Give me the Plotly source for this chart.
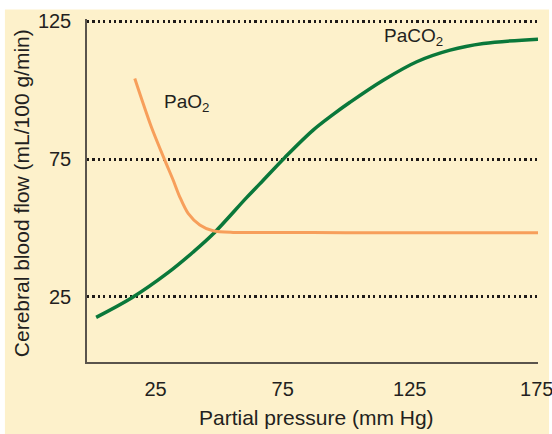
import plotly.graph_objects as go

# Data
paco2_x = [1.6, 15.5, 29.9, 39.7, 47.6, 60.8, 66, 75.9, 87, 94.9, 101.5, 114.6, 127.8, 140.9, 154, 175.5]
paco2_y = [17.6, 24.6, 33.8, 41.2, 47.8, 61.0, 66.0, 75.6, 85.5, 91.2, 95.6, 103.6, 110.3, 114.5, 116.9, 118.5]

pao2_x = [16.8, 23.3, 28.6, 31.9, 34.5, 37.8, 42.4, 47.6, 55.5, 66, 100, 175.5]
pao2_y = [104.2, 86.7, 74.6, 67.4, 61.3, 55.3, 51.1, 49.0, 48.4, 48.4, 48.3, 48.3]

x_ticks = [25, 75, 125, 175]
y_ticks = [25, 75, 125]

FONT = "Liberation Sans, Arial, Helvetica, sans-serif"
TEXT = "#231f20"
CREAM = "#fdf1cb"
GREEN = "#0a783a"
ORANGE = "#f79f5b"
AXIS = "#5a544c"

fig = go.Figure()
fig.add_trace(go.Scatter(x=paco2_x, y=paco2_y, mode="lines",
                         line=dict(color=GREEN, width=3.5, shape="spline", smoothing=1.0),
                         showlegend=False, hoverinfo="skip"))
fig.add_trace(go.Scatter(x=pao2_x, y=pao2_y, mode="lines",
                         line=dict(color=ORANGE, width=3, shape="spline", smoothing=0.8),
                         showlegend=False, hoverinfo="skip"))

fig.add_shape(type="rect", xref="paper", yref="paper",
              x0=-0.182, x1=1.0245, y0=-0.3, y1=1.028,
              fillcolor=CREAM, line=dict(width=0), layer="below")

fig.add_annotation(x=27.4, y=95.3, xref="x", yref="y", text="PaO<sub>2</sub>",
                   showarrow=False, xanchor="left", yanchor="middle",
                   font=dict(family=FONT, size=19, color=TEXT))
fig.add_annotation(x=114, y=119.3, xref="x", yref="y", text="PaCO<sub>2</sub>",
                   showarrow=False, xanchor="left", yanchor="middle",
                   font=dict(family=FONT, size=19, color=TEXT))

# Axis titles
fig.add_annotation(x=0.509, y=-0.163, xref="paper", yref="paper",
                   text="Partial pressure (mm Hg)", showarrow=False,
                   xanchor="center", yanchor="middle",
                   font=dict(family=FONT, size=21, color=TEXT))
fig.add_annotation(x=-0.145, y=0.491, xref="paper", yref="paper",
                   text="Cerebral blood flow (mL/100 g/min)", showarrow=False,
                   textangle=-90, xanchor="center", yanchor="middle",
                   font=dict(family=FONT, size=21, color=TEXT))

fig.update_layout(
    width=552, height=434,
    margin=dict(l=87, r=14, t=18.7, b=72),
    paper_bgcolor="white",
    plot_bgcolor="rgba(0,0,0,0)",
    font=dict(family=FONT, color=TEXT),
    xaxis=dict(range=[-2, 175.5], tickvals=x_ticks, ticktext=[str(v) for v in x_ticks],
               showgrid=False, zeroline=False, showline=True, linecolor=AXIS, linewidth=1.5,
               ticks="", ticklabelstandoff=8, ticklabeloverflow="allow", automargin=False,
               tickfont=dict(family=FONT, size=20, color=TEXT)),
    yaxis=dict(range=[1.4, 125.8], tickvals=y_ticks, ticktext=[str(v) for v in y_ticks],
               showgrid=True, gridcolor="#1e1a18", gridwidth=2.5, griddash="2.2px,3.2px",
               zeroline=False, showline=True, linecolor=AXIS, linewidth=1.5,
               ticks="", ticklabelstandoff=10, automargin=False,
               tickfont=dict(family=FONT, size=20, color=TEXT)),
)

fig.write_html("out.html", config={"displayModeBar": False},
               post_script="document.body.style.margin='0';document.body.style.overflow='hidden';")
